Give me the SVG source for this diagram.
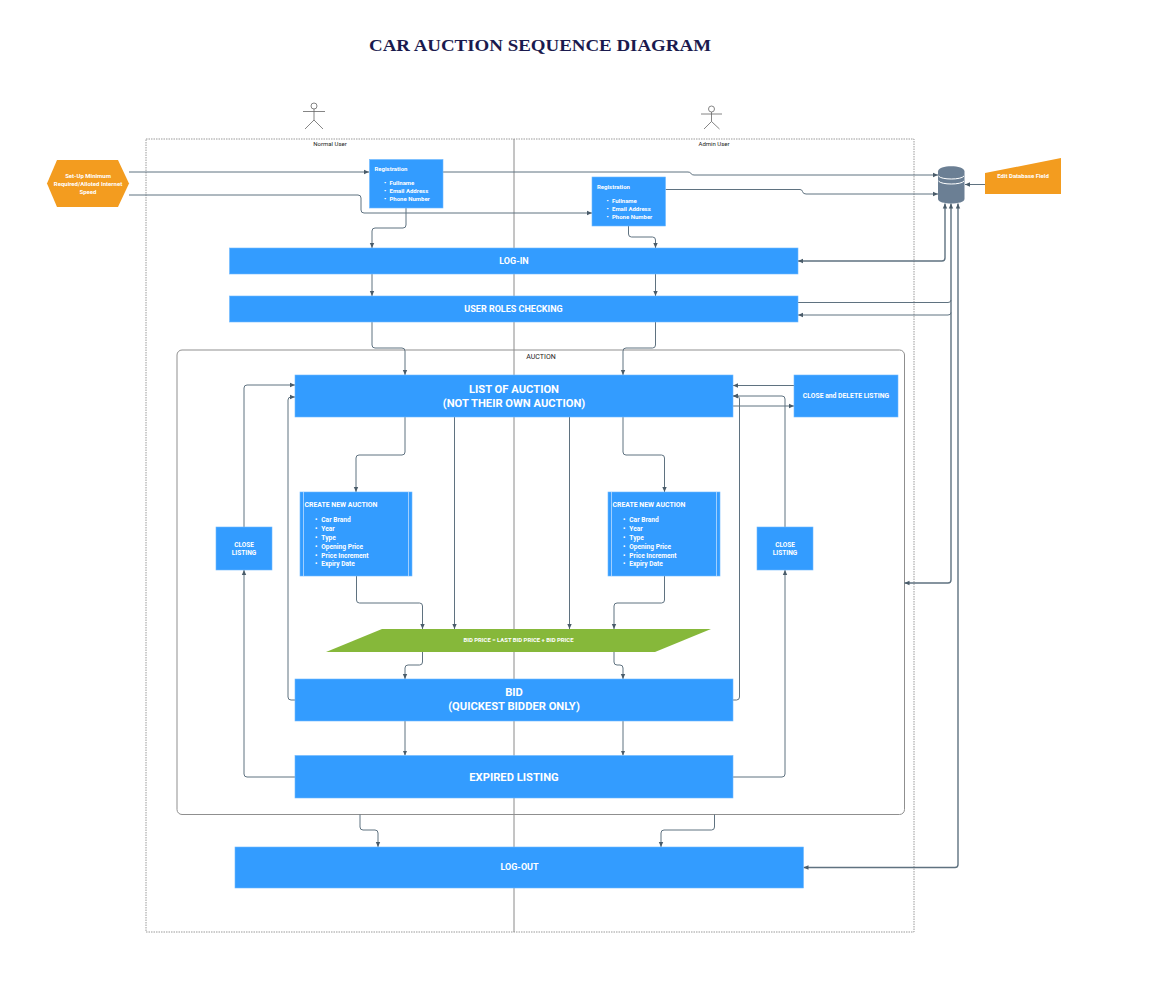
<svg xmlns="http://www.w3.org/2000/svg" width="1162" height="982" viewBox="0 0 1162 982">
<style>
text{font-family:Roboto,"Liberation Sans",sans-serif;fill:#fff;font-weight:700;text-anchor:middle}
.blue{fill:#339cff;stroke:#6fb9ff;stroke-width:.6}
.org{fill:#f39c1f}
.c{fill:none;stroke:#5f7280;stroke-width:1;marker-end:url(#a)}
.n{fill:none;stroke:#5f7280;stroke-width:1}
.t{stroke-width:1.4}
.lane{fill:none;stroke:#9a9a9a;stroke-width:1;stroke-dasharray:1.5 1}
.actor{fill:none;stroke:#666;stroke-width:.8}
.lab{fill:#222;font-weight:400;font-size:6px}
.s{font-size:6px;text-anchor:start}
.s2{font-size:6.6px;text-anchor:start}
.h{font-size:6.9px;text-anchor:start}
.m{font-size:6px}
.big{font-size:11.2px}
.in{stroke:#bcdcff;stroke-width:.8}
</style>
<defs>
<marker id="a" markerUnits="userSpaceOnUse" markerWidth="6" markerHeight="6" refX="5" refY="3" orient="auto"><path d="M0 .8L5 3L0 5.2z" fill="#4a5c6a"/></marker>
<marker id="b" markerUnits="userSpaceOnUse" markerWidth="6" markerHeight="6" refX="1" refY="3" orient="auto"><path d="M6 .8L1 3L6 5.2z" fill="#4a5c6a"/></marker>
</defs>
<rect width="1162" height="982" fill="#fff"/>
<text x="540" y="51" style="font-family:'Liberation Serif',serif;font-size:17px;fill:#1a1a4e" textLength="342" lengthAdjust="spacingAndGlyphs">CAR AUCTION SEQUENCE DIAGRAM</text>

<g id="lanes">
<rect class="lane" x="146" y="139" width="768" height="793"/>
<line x1="514" y1="139" x2="514" y2="932" stroke="#8a8a8a" stroke-width="1"/>
<text class="lab" x="330" y="146">Normal User</text>
<text class="lab" x="714" y="146">Admin User</text>
</g>
<g id="actor-normal" class="actor"><circle cx="314" cy="106" r="3"/><path d="M303 111.5H325M314 109V120L305 129M314 120L323 129"/></g>
<g id="actor-admin" class="actor"><circle cx="711.5" cy="109" r="3"/><path d="M701 114H722M711.5 112V121.5L704 129M711.5 121.5L719.500 129"/></g>

<g id="auction-frame">
<rect x="177" y="350" width="727.500" height="464.500" rx="5" fill="none" stroke="#8f8f8f" stroke-width="1"/>
<text class="lab" x="541" y="359" style="font-size:7px">AUCTION</text>
</g>

<g id="connectors">
<path class="c" d="M129 172H369"/>
<path class="c" d="M443 172H688Q690 172 691 173.500Q692 175 694 175H938"/>
<path class="c" d="M129 195H358Q361 195 361 198V210Q361 213 364 213H592"/>
<path class="c" d="M665.500 189.500H800Q802 189.500 802.500 191.500Q803 194 806 194H938"/>
<path class="c" d="M985 184.500H965"/>
<path class="c" d="M406 208V225Q406 228 403 228H375Q372 228 372 231V248"/>
<path class="c" d="M628.500 226V234Q628.500 237 631.500 237H652.500Q655.500 237 655.500 240V248"/>
<path class="c" d="M372 274V296"/>
<path class="c" d="M655.500 274V296"/>
<path class="c t" style="marker-start:url(#b)" d="M798 261H942Q945 261 945 258V203.500"/>
<path class="n" d="M798 302.500H948Q951 302.500 951 300"/>
<path class="c" d="M951 312.500Q951 315 948 315H798"/>
<path class="c t" style="marker-start:url(#b)" d="M904.500 583H948Q951 583 951 580V203.500"/>
<path class="c t" style="marker-start:url(#b)" d="M803.500 867.500H955Q958 867.500 958 864.500V203.500"/>
<path class="c" d="M372 322V345Q372 348 375 348H402Q405 348 405 351V375"/>
<path class="c" d="M655.500 322V345Q655.500 348 652.500 348H626Q623 348 623 351V375"/>
<path class="c" d="M405 417V452Q405 455 402 455H359Q356 455 356 458V492"/>
<path class="c" d="M623 417V452Q623 455 626 455H661.500Q664.500 455 664.500 458V492"/>
<path class="c" d="M454.500 417V629"/>
<path class="c" d="M569.500 417V629"/>
<path class="c" d="M356.500 576V600Q356.500 603 359.500 603H419.500Q422.500 603 422.500 606V629"/>
<path class="c" d="M664.500 576V600Q664.500 603 661.500 603H617Q614 603 614 606V629"/>
<path class="c" d="M422.500 652V662Q422.500 665 419.500 665H408Q405 665 405 668V679"/>
<path class="c" d="M614 652V662Q614 665 617 665H620Q623 665 623 668V679"/>
<path class="c" d="M295 700H291Q288 700 288 697V400Q288 397 291 397H295"/>
<path class="c" d="M733 700H736.500Q739.500 700 739.500 697V399Q739.500 396 736.500 396H733"/>
<path class="c" d="M405 721V755.500"/>
<path class="c" d="M623 721V755.500"/>
<path class="c" d="M295 777H247Q244 777 244 774V570"/>
<path class="c" d="M244 527V388Q244 385 247 385H295"/>
<path class="c" d="M733 777H782Q785 777 785 774V570"/>
<path class="c" d="M785 527V399Q785 396 782 396H733"/>
<path class="c" d="M794 385.500H733"/>
<path class="c" d="M733 406H794"/>
<path class="c" d="M360 814.500V827Q360 830 363 830H375Q378 830 378 833V847"/>
<path class="c" d="M714.500 814.500V827Q714.500 830 711.500 830H664Q661 830 661 833V847"/>
</g>

<g id="internet-speed">
<polygon class="org" points="47,183.500 57,160 118,160 129,183.500 118,207 57,207"/>
<text class="m" x="88" y="178">Set-Up Minimum</text><text class="m" x="88" y="186">Required/Alloted Internet</text><text class="m" x="88" y="194">Speed</text>
</g>
<g id="registration-normal">
<rect class="blue" x="369.500" y="159.500" width="73.500" height="48.500"/>
<text class="s" x="374.500" y="171">Registration</text>
<text class="s" y="185"><tspan x="384">•</tspan><tspan x="389.500">Fullname</tspan></text>
<text class="s" y="193"><tspan x="384">•</tspan><tspan x="389.500">Email Address</tspan></text>
<text class="s" y="201"><tspan x="384">•</tspan><tspan x="389.500">Phone Number</tspan></text>
</g>
<g id="registration-admin">
<rect class="blue" x="592" y="177" width="73.500" height="49"/>
<text class="s" x="597" y="189">Registration</text>
<text class="s" y="203"><tspan x="606.500">•</tspan><tspan x="612">Fullname</tspan></text>
<text class="s" y="211"><tspan x="606.500">•</tspan><tspan x="612">Email Address</tspan></text>
<text class="s" y="219"><tspan x="606.500">•</tspan><tspan x="612">Phone Number</tspan></text>
</g>
<g id="login"><rect class="blue" x="229.500" y="248" width="568.500" height="26"/><text x="514" y="264" font-size="9">LOG-IN</text></g>
<g id="roles"><rect class="blue" x="229.500" y="296" width="568.500" height="26"/><text x="513.500" y="312" font-size="9">USER ROLES CHECKING</text></g>
<g id="list-auction"><rect class="blue" x="295" y="375" width="438" height="42"/><text class="big" x="514" y="393">LIST OF AUCTION</text><text class="big" x="514" y="407">(NOT THEIR OWN AUCTION)</text></g>
<g id="close-delete"><rect class="blue" x="794" y="375" width="104" height="42"/><text x="846" y="398" font-size="6.800">CLOSE and DELETE LISTING</text></g>
<g id="close-left"><rect class="blue" x="216" y="527" width="56" height="43"/><text x="244" y="546.500" font-size="6.500">CLOSE</text><text x="244" y="554.500" font-size="6.500">LISTING</text></g>
<g id="close-right"><rect class="blue" x="757" y="527" width="56" height="43"/><text x="785" y="546.500" font-size="6.500">CLOSE</text><text x="785" y="554.500" font-size="6.500">LISTING</text></g>
<g id="create-normal">
<rect class="blue" x="300" y="492" width="112" height="84"/><path class="in" d="M303.500 492V576M408.500 492V576"/>
<text class="h" x="304.500" y="506.500">CREATE NEW AUCTION</text>
<text class="s2" y="521.500"><tspan x="315">•</tspan><tspan x="321.300">Car Brand</tspan></text>
<text class="s2" y="530.500"><tspan x="315">•</tspan><tspan x="321.300">Year</tspan></text>
<text class="s2" y="539.800"><tspan x="315">•</tspan><tspan x="321.300">Type</tspan></text>
<text class="s2" y="548.800"><tspan x="315">•</tspan><tspan x="321.300">Opening Price</tspan></text>
<text class="s2" y="557.800"><tspan x="315">•</tspan><tspan x="321.300">Price Increment</tspan></text>
<text class="s2" y="566"><tspan x="315">•</tspan><tspan x="321.300">Expiry Date</tspan></text>
</g>
<g id="create-admin">
<rect class="blue" x="608" y="492" width="112" height="84"/><path class="in" d="M611.500 492V576M716.500 492V576"/>
<text class="h" x="612.500" y="506.500">CREATE NEW AUCTION</text>
<text class="s2" y="521.500"><tspan x="623">•</tspan><tspan x="629.300">Car Brand</tspan></text>
<text class="s2" y="530.500"><tspan x="623">•</tspan><tspan x="629.300">Year</tspan></text>
<text class="s2" y="539.800"><tspan x="623">•</tspan><tspan x="629.300">Type</tspan></text>
<text class="s2" y="548.800"><tspan x="623">•</tspan><tspan x="629.300">Opening Price</tspan></text>
<text class="s2" y="557.800"><tspan x="623">•</tspan><tspan x="629.300">Price Increment</tspan></text>
<text class="s2" y="566"><tspan x="623">•</tspan><tspan x="629.300">Expiry Date</tspan></text>
</g>
<g id="bid-price"><polygon points="326,652 382,629 711,629 655,652" fill="#86b83a"/><text x="518.500" y="642" font-size="5.900">BID PRICE = LAST BID PRICE + BID PRICE</text></g>
<g id="bid"><rect class="blue" x="295" y="679" width="438" height="42"/><text class="big" x="514" y="696">BID</text><text class="big" x="514" y="710">(QUICKEST BIDDER ONLY)</text></g>
<g id="expired"><rect class="blue" x="295" y="755.500" width="438" height="42.500"/><text x="514" y="781" font-size="11.200">EXPIRED LISTING</text></g>
<g id="logout"><rect class="blue" x="235" y="847" width="568.500" height="41"/><text x="519.500" y="870" font-size="9">LOG-OUT</text></g>
<g id="database">
<path d="M938 171.500C938 164.500 964.500 164.500 964.500 171.500V199C964.500 205 938 205 938 199z" fill="#6b7f94"/>
<path d="M938.500 176C941 180 961.500 180 964 176M938.500 181C941 185 961.500 185 964 181" fill="none" stroke="#fff" stroke-width="1"/>
</g>
<g id="edit-db"><polygon class="org" points="985,173 1061,158 1061,194 985,194"/><text class="m" x="1023" y="178">Edit Database Field</text></g>
</svg>
